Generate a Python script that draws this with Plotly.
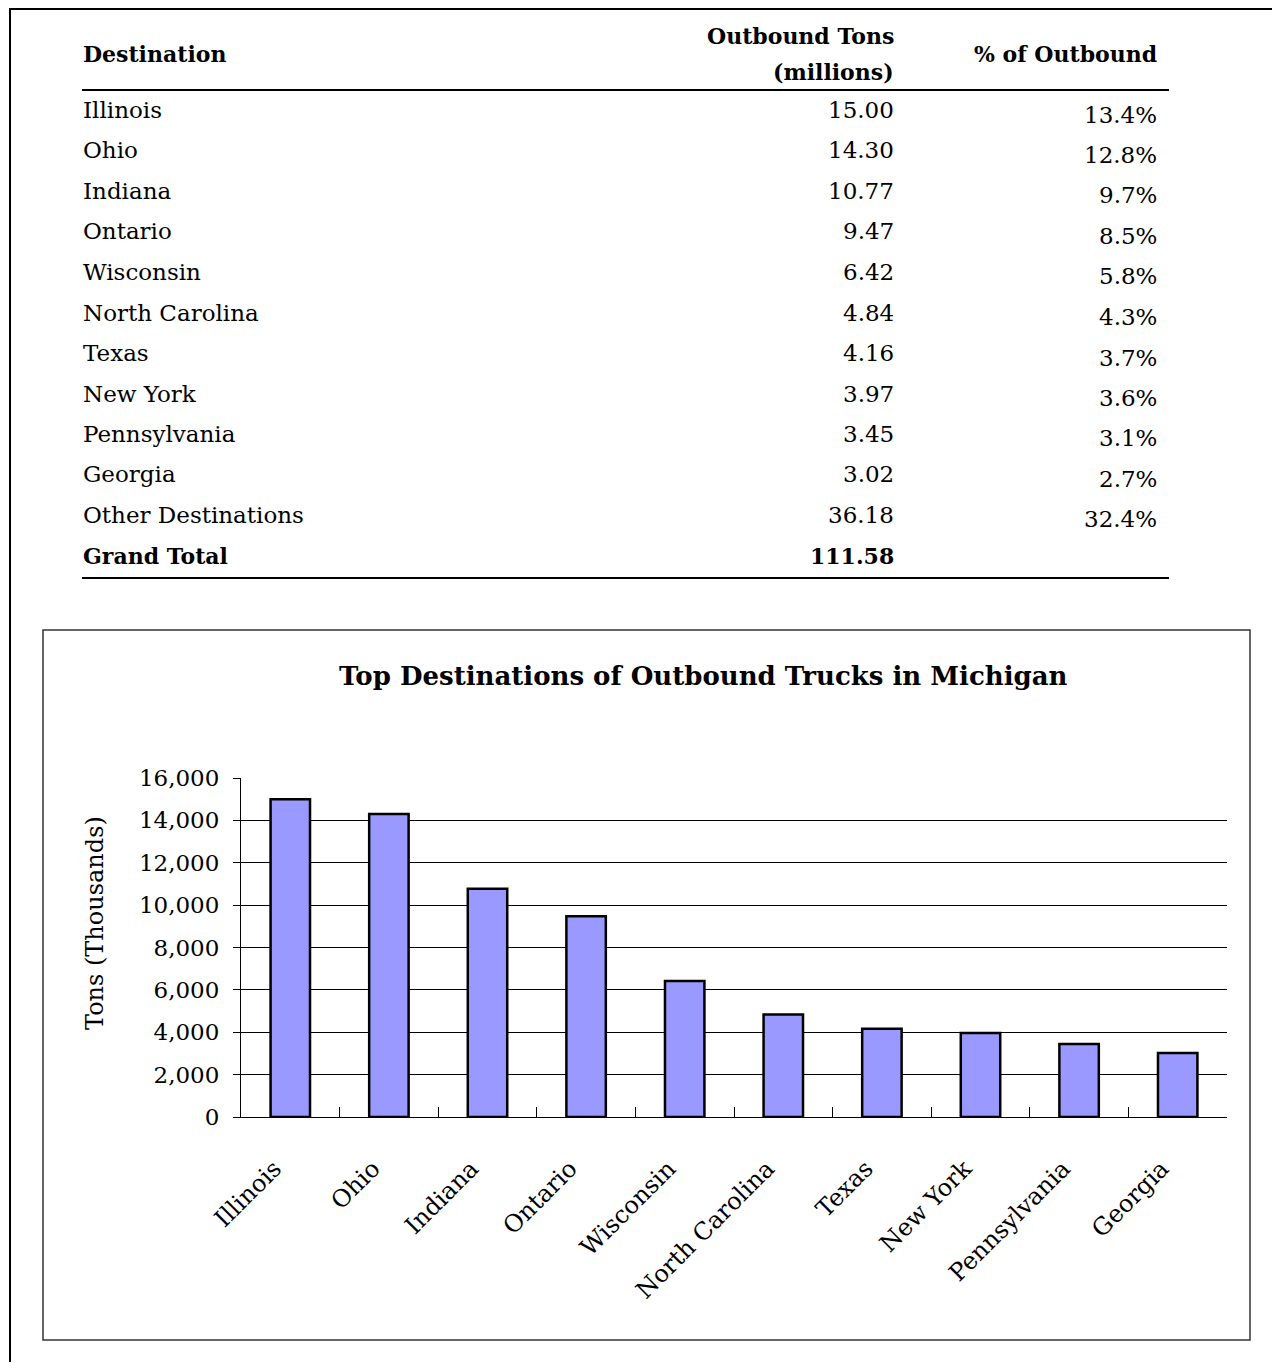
import plotly.graph_objects as go

# Table data
destinations = ["Illinois", "Ohio", "Indiana", "Ontario", "Wisconsin",
                "North Carolina", "Texas", "New York", "Pennsylvania", "Georgia"]
tons_millions = ["15.00", "14.30", "10.77", "9.47", "6.42",
                 "4.84", "4.16", "3.97", "3.45", "3.02"]
pct_outbound = ["13.4%", "12.8%", "9.7%", "8.5%", "5.8%",
                "4.3%", "3.7%", "3.6%", "3.1%", "2.7%"]
other_label = "Other Destinations"
other_tons = "36.18"
other_pct = "32.4%"
total_label = "Grand Total"
total_tons = "111.58"

# Chart data (thousands of tons)
chart_values = [15000, 14300, 10770, 9470, 6420, 4840, 4160, 3970, 3450, 3020]
y_ticks = [0, 2000, 4000, 6000, 8000, 10000, 12000, 14000, 16000]

# page body keeps its 8px margin, so the figure is drawn 8px in
OFF = 8
W, H = 1280 - 2 * OFF, 1370 - 2 * OFF
FONT = "DejaVu Serif"


def px(x):
    return (x - OFF) / W


def py(y):
    return 1 - (y - OFF) / H


annotations = []
shapes = []


def text(x, y, s, anchor="left", size=23, bold=False, angle=0):
    if bold:
        s = "<b>" + s + "</b>"
    annotations.append(dict(x=px(x), y=py(y), xref="paper", yref="paper",
                            text=s, showarrow=False, xanchor=anchor,
                            yanchor="middle", textangle=angle,
                            font=dict(family=FONT, size=size, color="black")))


def line(x0, y0, x1, y1, width=2, color="black"):
    shapes.append(dict(type="line", xref="paper", yref="paper",
                       x0=px(x0), y0=py(y0), x1=px(x1), y1=py(y1),
                       line=dict(color=color, width=width)))


# page border
line(10, 9, 1290, 9)
line(10, 8, 10, 1380)

# table header
text(81, 54, "Destination", size=22, bold=True)
text(896, 36, "Outbound Tons", anchor="right", size=22, bold=True)
text(896, 72, "(millions)", anchor="right", size=22, bold=True)
text(1159, 54, "% of Outbound", anchor="right", size=22, bold=True)
line(82, 90, 1169, 90)

row_names = destinations + [other_label]
row_tons = tons_millions + [other_tons]
row_pct = pct_outbound + [other_pct]
for i, (n, t, p) in enumerate(zip(row_names, row_tons, row_pct)):
    yy = 110 + 40.5 * i
    text(81, yy, n)
    text(896, yy, t, anchor="right")
    text(1159, yy + 4.5, p, anchor="right")
text(81, 556, total_label, size=22, bold=True)
text(896, 556, total_tons, anchor="right", size=22, bold=True)
line(82, 578, 1169, 578)

# chart box
shapes.append(dict(type="rect", xref="paper", yref="paper",
                   x0=px(43), y0=py(1340), x1=px(1250), y1=py(630),
                   line=dict(color="#333333", width=1.5)))
text(703, 676, "Top Destinations of Outbound Trucks in Michigan",
     anchor="center", size=26, bold=True)
text(95, 923, "Tons (Thousands)", anchor="center", size=24, angle=-90)

fig = go.Figure(go.Bar(
    x=destinations, y=chart_values,
    marker=dict(color="#9999FF", line=dict(color="black", width=2.5)),
))

fig.update_layout(
    width=W, height=H,
    margin=dict(l=0, r=0, t=0, b=0, autoexpand=False),
    paper_bgcolor="white", plot_bgcolor="white",
    bargap=0.6, showlegend=False,
    font=dict(family=FONT, size=23, color="black"),
    annotations=annotations, shapes=shapes,
    xaxis=dict(domain=[px(241), px(1227)], showline=True, linecolor="black",
               linewidth=1, ticks="inside", ticklen=10, tickcolor="black",
               tickson="boundaries", tickangle=-45, ticklabelstandoff=27,
               ticklabelshift=-16,
               tickfont=dict(family=FONT, size=24), showgrid=False,
               automargin=False),
    yaxis=dict(domain=[py(1117), py(778)], range=[0, 16000],
               tickvals=y_ticks, tickformat=",", showline=True,
               linecolor="black", linewidth=1, ticks="outside", ticklen=7,
               tickcolor="black", showgrid=True, gridcolor="black",
               gridwidth=1, zeroline=False, automargin=False,
               ticklabelstandoff=9,
               tickfont=dict(family=FONT, size=23)),
)

fig.write_html("out.html")
